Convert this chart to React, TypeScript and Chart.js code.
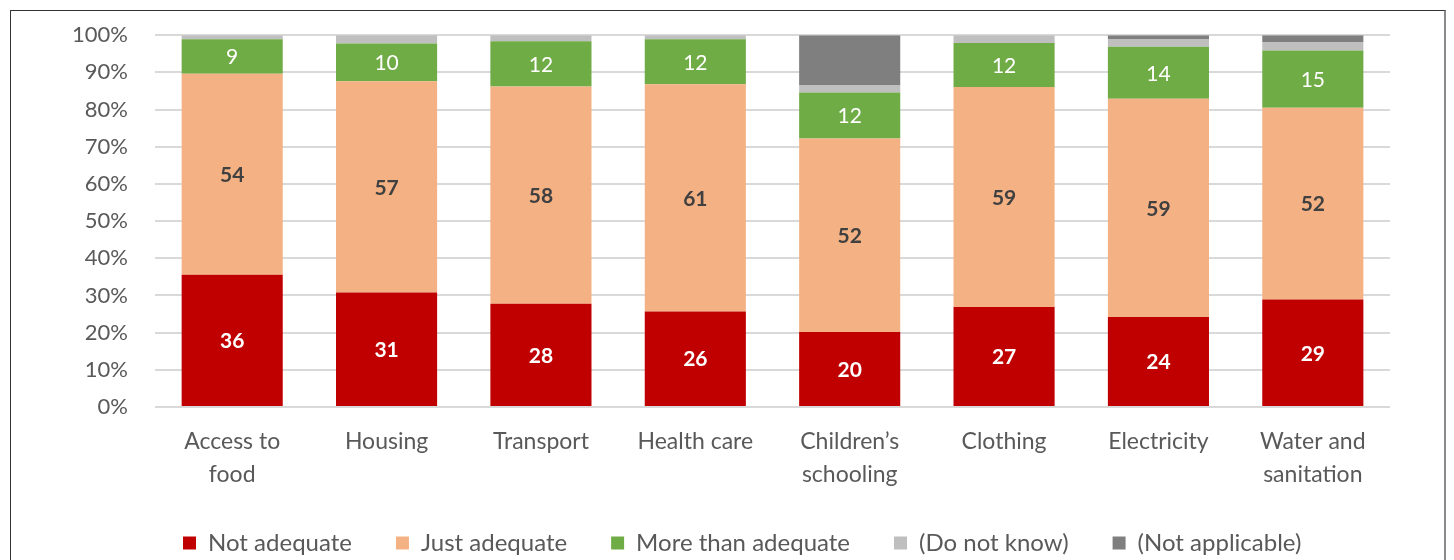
import React, { useEffect, useRef } from "react";
import { Chart, registerables } from "chart.js";

Chart.register(...registerables);

const categories: (string | string[])[] = [
  ["Access to", "food"],
  "Housing",
  "Transport",
  "Health care",
  ["Children’s", "schooling"],
  "Clothing",
  "Electricity",
  ["Water and", "sanitation"],
];

const notAdequate = [35.6, 30.8, 27.8, 25.7, 20.2, 26.9, 24.2, 28.9];
const justAdequate = [54.0, 56.8, 58.4, 61.1, 52.0, 59.2, 58.7, 51.6];
const moreThanAdequate = [9.3, 10.2, 12.2, 12.1, 12.4, 11.8, 14.0, 15.4];
const doNotKnow = [1.1, 2.2, 1.6, 1.1, 1.9, 2.1, 2.1, 2.3];
const notApplicable = [0, 0, 0, 0, 13.5, 0, 1.0, 1.8];

const seriesNames = ["Not adequate", "Just adequate", "More than adequate", "(Do not know)", "(Not applicable)"];
const seriesColors = ["#C00000", "#F4B183", "#6FAC46", "#BFBFBF", "#7F7F7F"];
const yTicks = [0, 10, 20, 30, 40, 50, 60, 70, 80, 90, 100];

const FONT = "Lato, 'Open Sans', sans-serif";
const LEGEND_FONT = 24;
const LEGEND_GAP = 44;
const CANVAS_OFFSET = -16;

const labelStyles: Record<number, { color: string; weight: string }> = {
  0: { color: "#FFFFFF", weight: "bold" },
  1: { color: "#404040", weight: "bold" },
  2: { color: "#FFFFFF", weight: "normal" },
};

const dataLabelPlugin = {
  id: "dataLabels",
  afterDatasetsDraw(chart: any) {
    const ctx = chart.ctx;
    ctx.save();
    ctx.textAlign = "center";
    ctx.textBaseline = "middle";
    chart.data.datasets.forEach((ds: any, di: number) => {
      const st = labelStyles[di];
      if (!st) return;
      const meta = chart.getDatasetMeta(di);
      meta.data.forEach((el: any, i: number) => {
        const v = ds.data[i];
        if (!v) return;
        ctx.font = `${st.weight} 21px ${FONT}`;
        ctx.fillStyle = st.color;
        ctx.fillText(String(Math.round(v)), el.x, (el.y + el.base) / 2 + 1);
      });
    });
    ctx.restore();
  },
};

const legendPlacePlugin = {
  id: "legendPlace",
  afterLayout(chart: any) {
    const lg = chart.legend;
    if (lg) {
      lg.left = 172 - LEGEND_GAP;
      lg.right = chart.width;
      lg.top = 532 - CANVAS_OFFSET - LEGEND_GAP - LEGEND_FONT / 2;
    }
  },
};

export default function App() {
  const ref = useRef<HTMLCanvasElement | null>(null);
  useEffect(() => {
    if (!ref.current) return;
    const datasets = [notAdequate, justAdequate, moreThanAdequate, doNotKnow, notApplicable].map((d, i) => ({
      label: seriesNames[i],
      data: d,
      backgroundColor: seriesColors[i],
      borderWidth: 0,
      categoryPercentage: 1,
      barPercentage: 0.655,
    }));
    const chart = new Chart(ref.current, {
      type: "bar",
      data: { labels: categories as any, datasets },
      plugins: [dataLabelPlugin, legendPlacePlugin],
      options: {
        animation: false,
        responsive: false,
        layout: { padding: { left: 0, right: 53, top: 10, bottom: 0 } },
        plugins: {
          tooltip: { enabled: false },
          legend: {
            position: "bottom",
            align: "start",
            labels: {
              boxWidth: 13,
              boxHeight: 13,
              padding: LEGEND_GAP,
              color: "#595959",
              font: { family: FONT, size: LEGEND_FONT },
            },
          },
        },
        scales: {
          x: {
            stacked: true,
            grid: { display: false },
            border: { display: false },
            ticks: {
              color: "#595959",
              font: { family: FONT, size: 23, lineHeight: 1.43 },
              maxRotation: 0,
              autoSkip: false,
              padding: 10,
            },
            afterFit(scale: any) {
              scale.height = 90;
            },
          },
          y: {
            stacked: true,
            min: 0,
            max: 100,
            afterBuildTicks(scale: any) {
              scale.ticks = yTicks.map((v) => ({ value: v }));
            },
            grid: { color: "#D9D9D9", lineWidth: 2, drawTicks: false },
            border: { display: false },
            ticks: {
              color: "#595959",
              font: { family: FONT, size: 22 },
              padding: 27,
              callback: (v: any) => `${v}%`,
            },
            afterFit(scale: any) {
              scale.width = 144;
            },
          },
        },
      },
    });
    return () => chart.destroy();
  }, []);

  return (
    <div
      style={{
        position: "absolute",
        left: 10,
        top: 10,
        width: 1433,
        height: 549,
        overflow: "hidden",
        borderLeft: "1px solid #333",
        borderTop: "1px solid #333",
        borderRight: "2px solid #8a8a8a",
        background: "#fff",
      }}
    >
      <canvas
        ref={ref}
        width={1432}
        height={580}
        style={{ display: "block", position: "absolute", left: 0, top: CANVAS_OFFSET, width: 1432, height: 580 }}
      />
    </div>
  );
}
